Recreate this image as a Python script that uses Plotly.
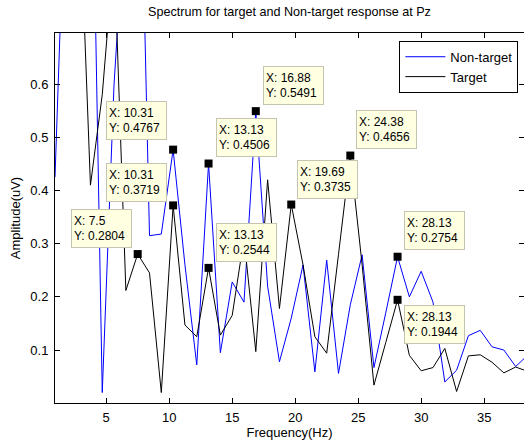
import plotly.graph_objects as go
from decimal import Context, ROUND_HALF_UP

# ---- data ----
freq = [0.9375, 1.875, 2.8125, 3.75, 4.6875, 5.625, 6.5625, 7.5, 8.4375, 9.375,
        10.3125, 11.25, 12.1875, 13.125, 14.0625, 15.0, 15.9375, 16.875, 17.8125, 18.75,
        19.6875, 20.625, 21.5625, 22.5, 23.4375, 24.375, 25.3125, 26.25, 27.1875, 28.125,
        29.0625, 30.0, 30.9375, 31.875, 32.8125, 33.75, 34.6875, 35.625, 36.5625, 37.5,
        38.4375]

non_target = [0.425, 1.07, 1.15, 1.25, 0.02, 0.60, 0.95, 1.30, 0.315, 0.318,
              0.4767, 0.26, 0.072, 0.4506, 0.095, 0.228, 0.19, 0.5491, 0.22, 0.078,
              0.16, 0.26, 0.059, 0.269, 0.056, 0.185, 0.279, 0.067, 0.17, 0.2754,
              0.20, 0.248, 0.19, 0.04, 0.062, 0.127, 0.137, 0.106, 0.10, 0.069,
              0.09]

target = [0.90, 1.20, 1.00, 0.41, 0.58, 0.85, 0.212, 0.2804, 0.245, 0.02,
          0.3719, 0.147, 0.125, 0.2544, 0.128, 0.165, 0.31, 0.097, 0.42, 0.178,
          0.3735, 0.26, 0.125, 0.094, 0.28, 0.4656, 0.26, 0.034, 0.114, 0.1944,
          0.09, 0.061, 0.067, 0.103, 0.022, 0.089, 0.091, 0.077, 0.057, 0.068,
          0.06]

# data tips: (series, frequency)
tip_series = ["Non-target", "Target", "Target", "Non-target", "Non-target",
              "Target", "Target", "Target", "Non-target", "Target"]
tip_freq = [10.3125, 10.3125, 7.5, 13.125, 16.875, 13.125, 19.6875, 24.375, 28.125, 28.125]

x_ticks = [5, 10, 15, 20, 25, 30, 35]
y_ticks = [0.1, 0.2, 0.3, 0.4, 0.5, 0.6]

# ---- styling / placement of tip boxes (anchor, pixel shifts) ----
tip_place = [("right", "bottom", -6, 10), ("right", "bottom", -6, 3), ("right", "bottom", -6, 6),
             ("left", "bottom", 7, 7), ("left", "bottom", 7, 6), ("left", "bottom", 7, 6),
             ("left", "bottom", 6, 6), ("left", "bottom", 6, 7), ("left", "bottom", 6, 7),
             ("left", "top", 6, -5)]

FONT = "Liberation Sans, Arial, Helvetica, sans-serif"
series = {"Non-target": non_target, "Target": target}
ctx = Context(prec=4, rounding=ROUND_HALF_UP)


def fmt(v):
    return format(ctx.create_decimal(repr(v)), "f")


fig = go.Figure()
fig.add_trace(go.Scatter(x=freq, y=non_target, mode="lines", name="Non-target",
                         line=dict(color="#0000ff", width=1)))
fig.add_trace(go.Scatter(x=freq, y=target, mode="lines", name="Target",
                         line=dict(color="#000000", width=1)))

tx, ty = [], []
for s, f in zip(tip_series, tip_freq):
    i = freq.index(f)
    tx.append(f)
    ty.append(series[s][i])
fig.add_trace(go.Scatter(x=tx, y=ty, mode="markers", showlegend=False,
                         marker=dict(symbol="square", size=8, color="black"),
                         hoverinfo="skip"))

for (xv, yv), (xa, ya, xs, ys) in zip(zip(tx, ty), tip_place):
    fig.add_annotation(x=xv, y=yv, xref="x", yref="y", showarrow=False,
                       text=f"X: {fmt(xv)}<br>Y: {fmt(yv)}",
                       xanchor=xa, yanchor=ya, xshift=xs, yshift=ys,
                       align="left", width=55, height=33, borderpad=2,
                       bgcolor="#ffffe1", bordercolor="#c4c4b0", borderwidth=1,
                       font=dict(family=FONT, size=12, color="black"))

axis_common = dict(showline=True, linecolor="black", linewidth=1, mirror="ticks",
                   ticks="inside", ticklen=5, tickcolor="black", showgrid=False,
                   zeroline=False, tickfont=dict(family=FONT, size=13, color="black"))

fig.update_xaxes(range=[0.9375, 38.16], tickvals=x_ticks,
                 title=dict(text="Frequency(Hz)", font=dict(family=FONT, size=13, color="black"),
                            standoff=4),
                 ticklabelstandoff=2, **axis_common)
fig.update_yaxes(range=[0.0004, 0.696], tickvals=y_ticks, tickformat=".1f",
                 title=dict(text="Amplitude(uV)", font=dict(family=FONT, size=13, color="black"),
                            standoff=6),
                 ticklabelstandoff=3, **axis_common)

fig.update_layout(
    width=524, height=441,
    margin=dict(l=55, r=0, t=33, b=38),
    paper_bgcolor="white", plot_bgcolor="white",
    title=dict(text="Spectrum for target and Non-target response at Pz",
               x=(55 + 524) / 2 / 524, xanchor="center", y=1 - 12 / 441, yanchor="middle",
               font=dict(family=FONT, size=12.6, color="black")),
    legend=dict(x=0.988, y=0.979, xanchor="right", yanchor="top",
                bgcolor="white", bordercolor="black", borderwidth=1,
                font=dict(family=FONT, size=13, color="black"),
                tracegroupgap=0, itemwidth=40),
    showlegend=True,
)

fig.write_html("out.html", config={"displayModeBar": False},
               post_script="document.body.style.margin='0';document.body.style.overflow='hidden';")
